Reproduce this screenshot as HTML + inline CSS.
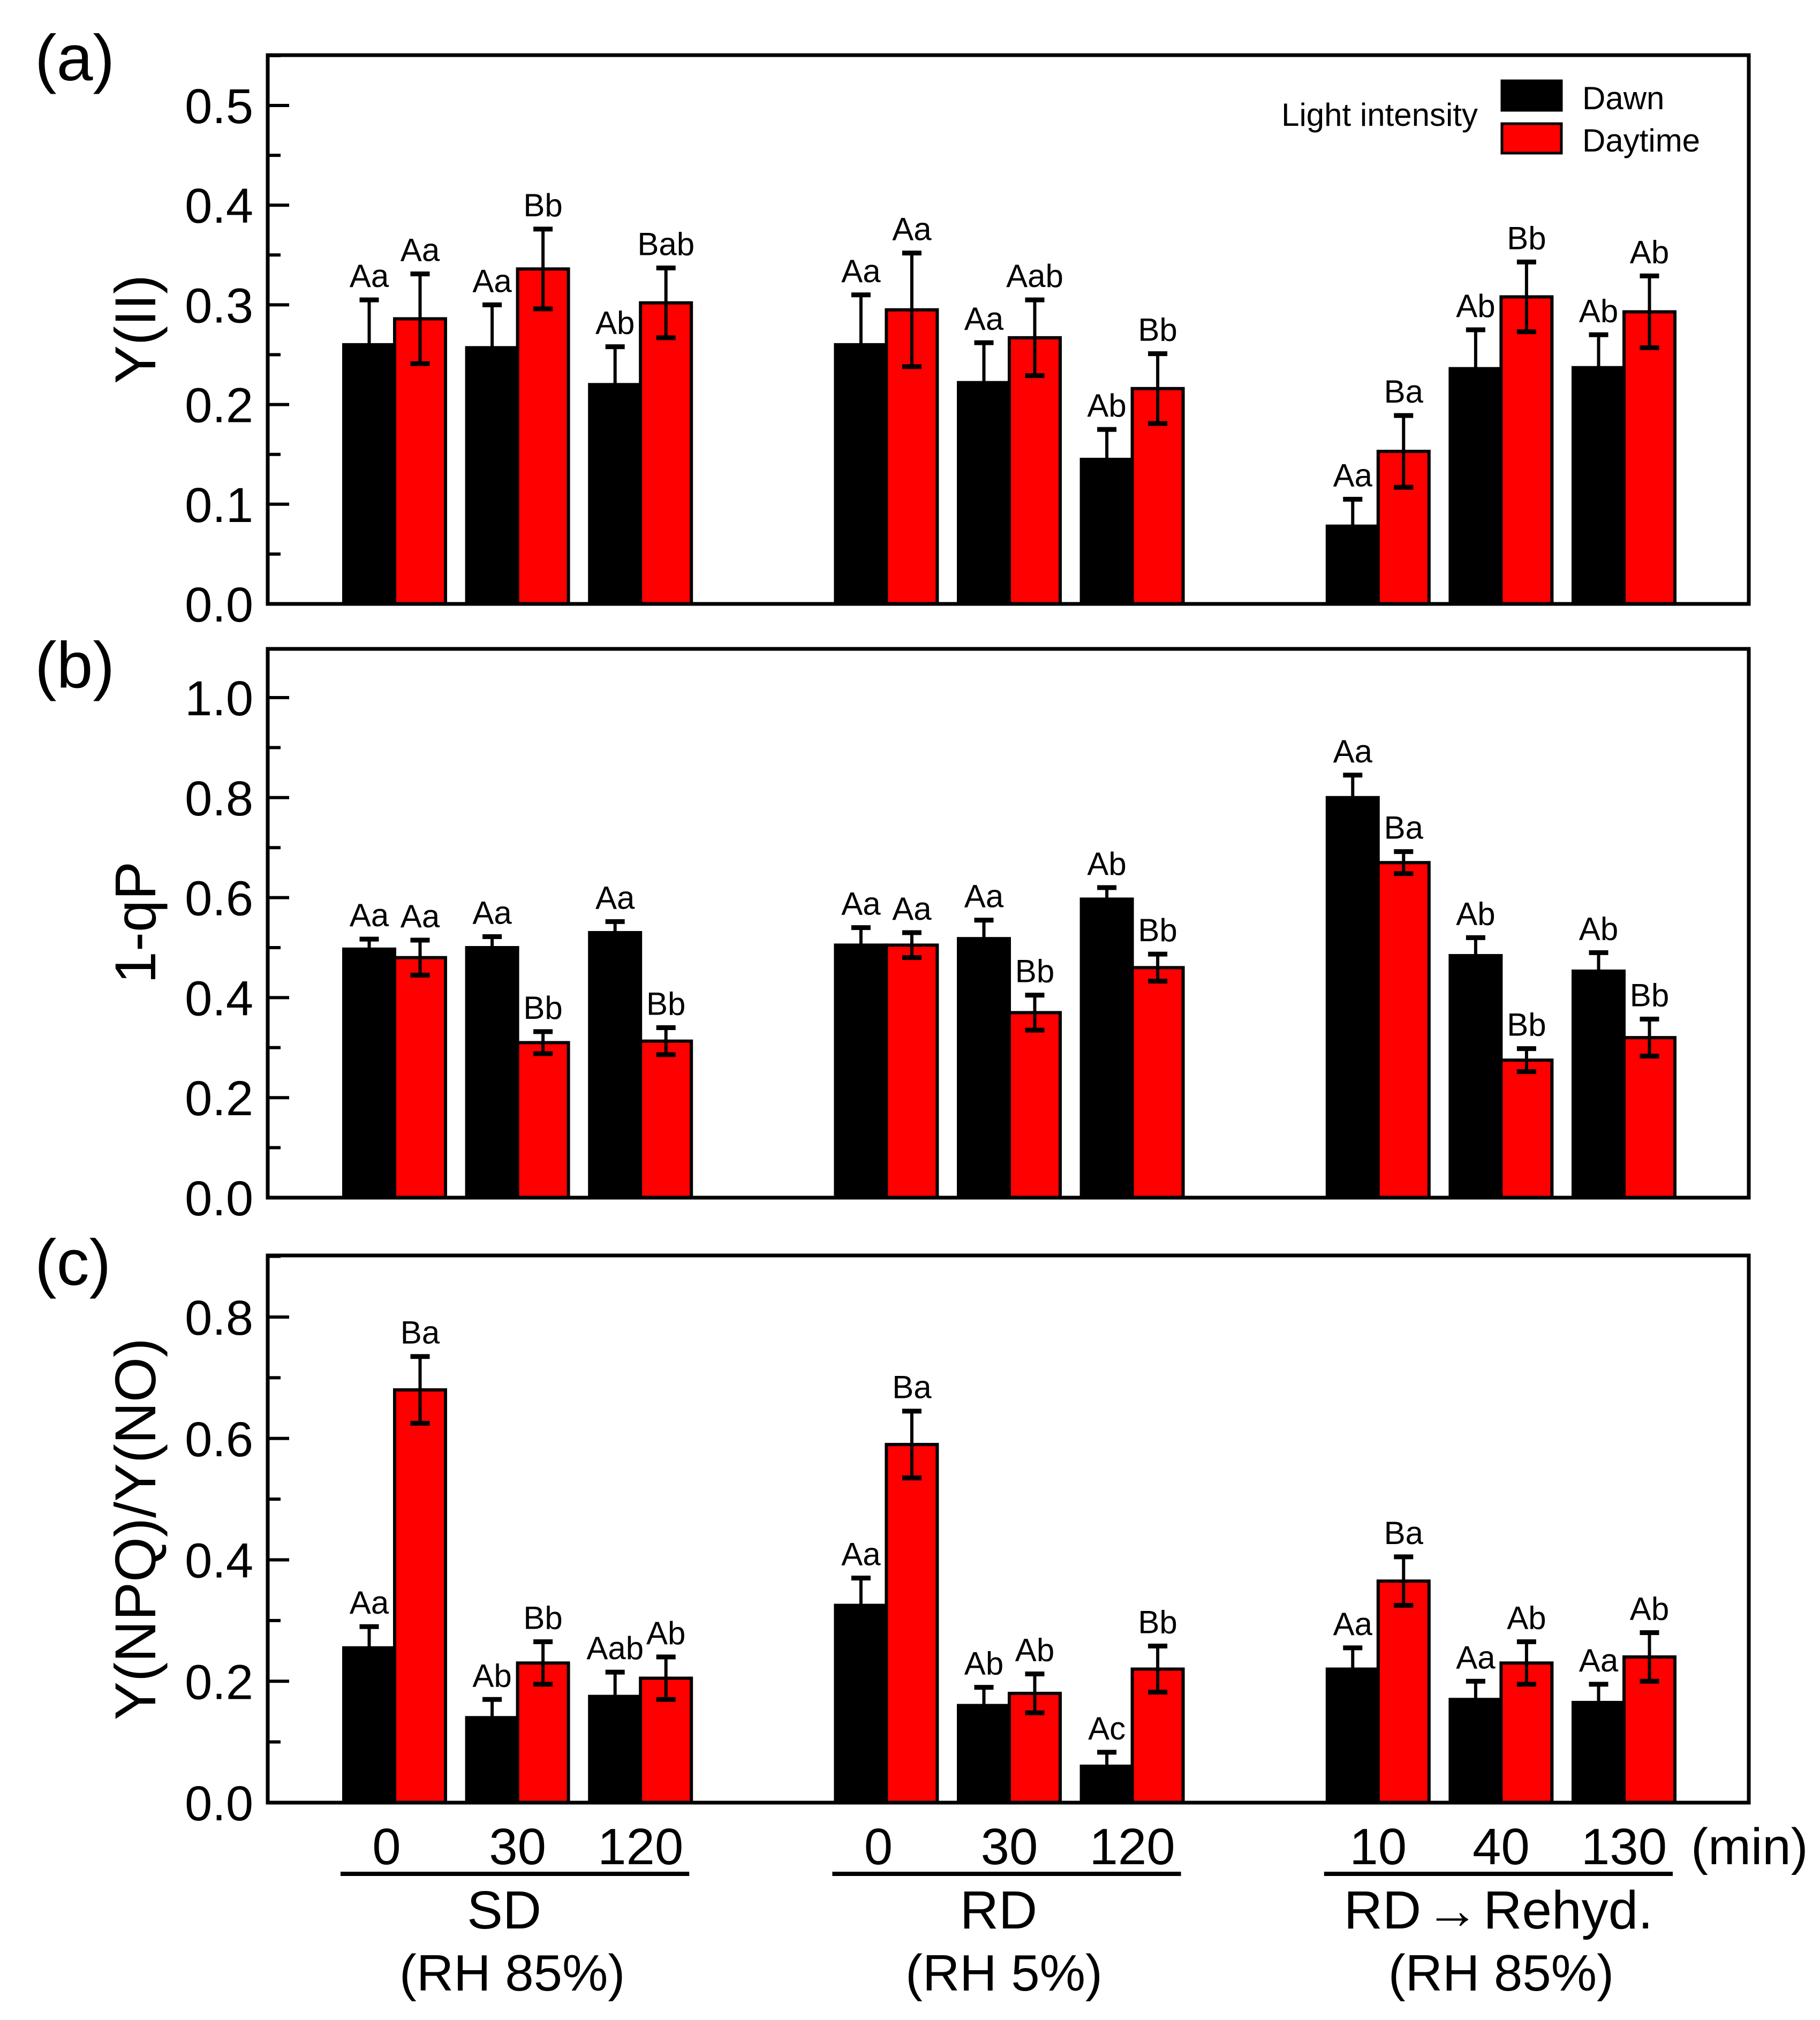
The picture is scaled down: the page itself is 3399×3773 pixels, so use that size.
<!DOCTYPE html>
<html><head><meta charset="utf-8"><style>
html,body{margin:0;padding:0;background:#fff;}
svg{display:block;font-family:"Liberation Sans",Arial,sans-serif;}
</style></head><body>
<svg id="chart" width="3399" height="3773" viewBox="0 0 3399 3773">
<g id="panels"></g>
<g>
<text x="2760" y="235" font-size="60" text-anchor="end">Light intensity</text>
<rect x="2805" y="151" width="111" height="55" fill="#000" stroke="#000" stroke-width="5"/>
<rect x="2805" y="231" width="111" height="55" fill="#f00" stroke="#000" stroke-width="5"/>
<text x="2955" y="204" font-size="60">Dawn</text>
<text x="2955" y="283" font-size="60">Daytime</text>
</g>
<g id="xaxis"></g>
</svg>
<script>
const groups = ["SD","RD","RD\u2192Rehyd."];
const groupSub = ["(RH 85%)","(RH 5%)","(RH 85%)"];
const times = [["0","30","120"],["0","30","120"],["10","40","130"]];

const aDawn = [0.260,0.257,0.220,0.260,0.222,0.145,0.078,0.236,0.237];
const aDawnErr = [0.045,0.043,0.038,0.050,0.040,0.030,0.027,0.039,0.033];
const aDay = [0.286,0.336,0.302,0.295,0.267,0.216,0.153,0.308,0.293];
const aDayErr = [0.045,0.040,0.035,0.057,0.038,0.035,0.036,0.035,0.036];
const aDawnLab = ["Aa","Aa","Ab","Aa","Aa","Ab","Aa","Ab","Ab"];
const aDayLab = ["Aa","Bb","Bab","Aa","Aab","Bb","Ba","Bb","Ab"];

const bDawn = [0.497,0.500,0.530,0.505,0.518,0.597,0.800,0.484,0.453];
const bDawnErr = [0.020,0.022,0.022,0.035,0.037,0.023,0.045,0.036,0.037];
const bDay = [0.480,0.310,0.313,0.505,0.370,0.460,0.670,0.275,0.320];
const bDayErr = [0.035,0.022,0.027,0.025,0.035,0.027,0.022,0.023,0.037];
const bDawnLab = ["Aa","Aa","Aa","Aa","Aa","Ab","Aa","Ab","Ab"];
const bDayLab = ["Aa","Bb","Bb","Aa","Bb","Bb","Ba","Bb","Bb"];

const cDawn = [0.255,0.140,0.175,0.325,0.160,0.060,0.220,0.170,0.165];
const cDawnErr = [0.035,0.030,0.040,0.045,0.030,0.023,0.035,0.030,0.030];
const cDay = [0.680,0.230,0.205,0.590,0.180,0.220,0.365,0.230,0.240];
const cDayErr = [0.055,0.035,0.035,0.055,0.032,0.038,0.040,0.035,0.040];
const cDawnLab = ["Aa","Ab","Aab","Aa","Ab","Ac","Aa","Aa","Aa"];
const cDayLab = ["Ba","Bb","Ab","Ba","Ab","Bb","Ba","Ab","Ab"];

const aTicks = ["0.0","0.1","0.2","0.3","0.4","0.5"];
const bTicks = ["0.0","0.2","0.4","0.6","0.8","1.0"];
const cTicks = ["0.0","0.2","0.4","0.6","0.8"];

const NS="http://www.w3.org/2000/svg";
function mk(tag, attrs, parent){const e=document.createElementNS(NS,tag);for(const k in attrs)e.setAttribute(k,attrs[k]);parent.appendChild(e);return e;}
const X0=500, X1=3266;
function slot(i){return Math.floor(i/3)*4+(i%3);}
function xScale(s){return 737+229.6*s;}
const BW=95;

const panels=[
 {id:"a",top:103,bot:1128,y0px:1128,yTopVal:0.5,yTopPx:197,ticks:aTicks,minor:0.05,title:"Y(II)",tcy:615,dawn:aDawn,de:aDawnErr,day:aDay,ye:aDayErr,dl:aDawnLab,yl:aDayLab,lety:150},
 {id:"b",top:1212,bot:2237,y0px:2237,yTopVal:1.0,yTopPx:1303,ticks:bTicks,minor:0.1,title:"1-qP",tcy:1723,dawn:bDawn,de:bDawnErr,day:bDay,ye:bDayErr,dl:bDawnLab,yl:bDayLab,lety:1284},
 {id:"c",top:2345,bot:3367,y0px:3367,yTopVal:0.8,yTopPx:2460,ticks:cTicks,minor:0.1,title:"Y(NPQ)/Y(NO)",tcy:2856,dawn:cDawn,de:cDawnErr,day:cDay,ye:cDayErr,dl:cDawnLab,yl:cDayLab,lety:2400}
];
const root=document.getElementById("panels");
panels.forEach(p=>{
 const g=mk("g",{},root);
 
 
 const ys=v=>p.y0px-(v/p.yTopVal)*(p.y0px-p.yTopPx);
 const L=mk("text",{x:65,y:p.lety,"font-size":122},g);L.textContent="("+p.id+")";
 
 
 const T=mk("text",{x:0,y:0,"font-size":108,"text-anchor":"middle",transform:`translate(290,${p.tcy}) rotate(-90)`},g);T.textContent=p.title;
 
 
 const topVal=(p.y0px-p.top)/(p.y0px-p.yTopPx)*p.yTopVal;
 for(let v=0;v<=topVal+1e-9;v+=p.minor){
  const y=ys(v);
  const isMajor=p.ticks.some(t=>Math.abs(parseFloat(t)-v)<1e-6);
  const tk=mk("line",{x1:X0,x2:X0+(isMajor?40:24),y1:y,y2:y,stroke:"#000","stroke-width":6},g);
  
  
 }
 p.ticks.forEach(t=>{
  const tl=mk("text",{x:473,y:ys(parseFloat(t))+33,"font-size":92,"text-anchor":"end"},g);tl.textContent=t;
  
  
 });
 [[p.dawn,p.de,p.dl,"#000",-1,"dawn"],[p.day,p.ye,p.yl,"#f00",0,"daytime"]].forEach(([vals,errs,labs,col,off,nm])=>{
  vals.forEach((v,i)=>{
   const xl=xScale(slot(i))+off*BW;
   const yv=ys(v);
   const r=mk("rect",{x:xl,y:yv,width:BW,height:p.y0px-yv,fill:col,stroke:"#000","stroke-width":6},g);
   
   
   const cx=xl+BW/2, yt=ys(v+errs[i]), yb=ys(v-errs[i]);
   const eg=mk("g",{stroke:"#000","stroke-width":6},g);
   
   
   mk("line",{x1:cx,x2:cx,y1:yt,y2:col==="#000"?yv:yb},eg);
   mk("line",{x1:cx-18,x2:cx+18,y1:yt,y2:yt,"stroke-width":9},eg);
   if(col!=="#000")mk("line",{x1:cx-18,x2:cx+18,y1:yb,y2:yb,"stroke-width":9},eg);
   const lt=mk("text",{x:cx,y:yt-24,"font-size":60,"text-anchor":"middle"},g);lt.textContent=labs[i];
   
   
  });
 });
 const fr=mk("rect",{x:X0,y:p.top,width:X1-X0,height:p.bot-p.top,fill:"none",stroke:"#000","stroke-width":7},g);
 
 
});
const xa=document.getElementById("xaxis");
const nameShift=[-25,-20,-5], subShift=[-10,-10,0];
times.forEach((ts,gi)=>{
 ts.forEach((t,j)=>{
  const tx=mk("text",{x:xScale(gi*4+j)-(j===0&&gi<2?15:0),y:3482,"font-size":96,"text-anchor":"middle"},xa);tx.textContent=t;
  
  
 });
 const xs=xScale(gi*4)-BW, xe=xScale(gi*4+2)+BW;
 const ln=mk("line",{x1:xs-6,x2:xe-4,y1:3500,y2:3500,stroke:"#000","stroke-width":8},xa);
 
 
 const cx=(xs+xe)/2;
 const gn=mk("text",{x:cx+nameShift[gi],y:3602,"font-size":100,"text-anchor":"middle"},xa);
 
 
 if(gi===2){
  const t1=mk("tspan",{},gn);t1.textContent="RD";
  const t2=mk("tspan",{"font-weight":"bold","font-size":100,dx:8},gn);t2.textContent="\u2192";
  const t3=mk("tspan",{dx:8},gn);t3.textContent="Rehyd.";
 } else gn.textContent=groups[gi];
 const gs=mk("text",{x:cx+subShift[gi],y:3718,"font-size":96,"text-anchor":"middle"},xa);gs.textContent=groupSub[gi];
 
 
});
const mn=mk("text",{x:3158,y:3482,"font-size":96},xa);mn.textContent="(min)";


</script>
</body></html>
